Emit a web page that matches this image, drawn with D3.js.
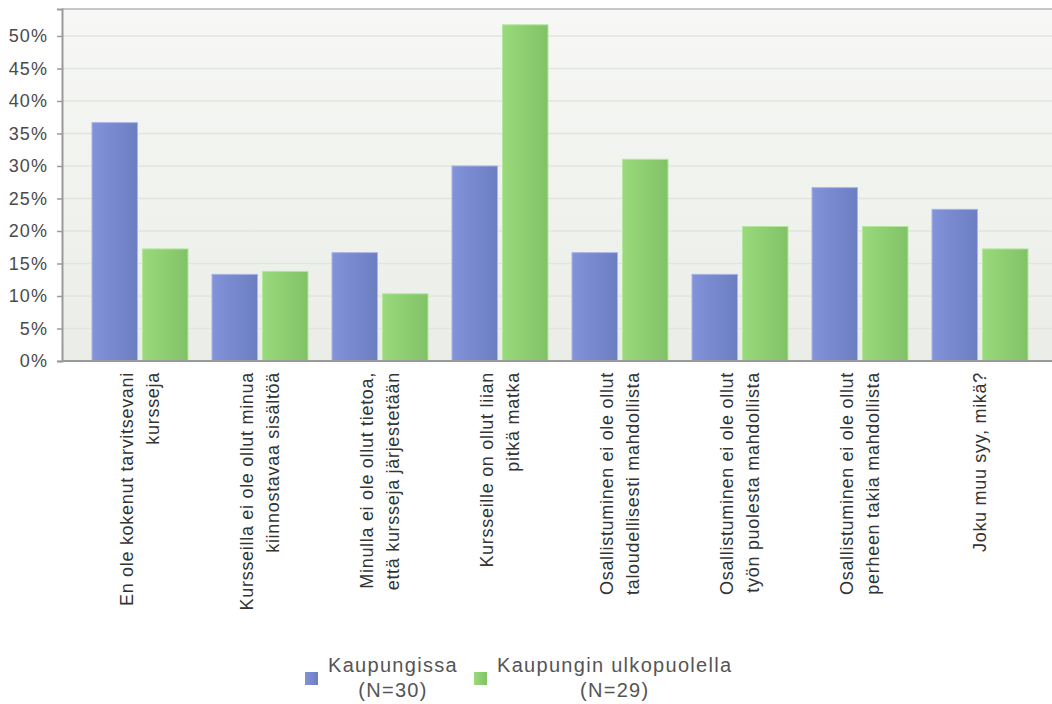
<!DOCTYPE html>
<html>
<head>
<meta charset="utf-8">
<script src="https://cdn.jsdelivr.net/npm/d3@7"></script>
<style>
  html, body { margin: 0; padding: 0; background: #fff; }
  svg { display: block; font-family: "Liberation Sans", Arial, sans-serif; }
</style>
</head>
<body>
<svg id="chart" width="1052" height="704"></svg>
<script>
// Reasons for not taking part in courses, by place of residence
const categories = [
  ["En ole kokenut tarvitsevani", "kursseja"],
  ["Kursseilla ei ole ollut minua", "kiinnostavaa sisältöä"],
  ["Minulla ei ole ollut tietoa,", "että kursseja järjestetään"],
  ["Kursseille on ollut liian", "pitkä matka"],
  ["Osallistuminen ei ole ollut", "taloudellisesti mahdollista"],
  ["Osallistuminen ei ole ollut", "työn puolesta mahdollista"],
  ["Osallistuminen ei ole ollut", "perheen takia mahdollista"],
  ["Joku muu syy, mikä?"]
];
const seriesNames = ["Kaupungissa", "Kaupungin ulkopuolella"];
const seriesN = ["(N=30)", "(N=29)"];
const kaupungissa = [36.67, 13.33, 16.67, 30.00, 16.67, 13.33, 26.67, 23.33];
const ulkopuolella = [17.24, 13.79, 10.34, 51.72, 31.03, 20.69, 20.69, 17.24];
const yTicks = [0, 5, 10, 15, 20, 25, 30, 35, 40, 45, 50];

const svg = d3.select("#chart");
const defs = svg.append("defs");

const plot = { left: 62, top: 9, right: 1060, bottom: 361 };

// plot background gradient
const bg = defs.append("linearGradient").attr("id", "bg")
  .attr("x1", 0).attr("y1", 0).attr("x2", 0).attr("y2", 1);
bg.append("stop").attr("offset", "0%").attr("stop-color", "#f7f8f6");
bg.append("stop").attr("offset", "100%").attr("stop-color", "#eaede7");

// bar gradients: lighter on the left, darker on the right
const barColors = [
  { id: "gBlue", light: "#8392da", dark: "#6c7ec2", stroke: "#a9b4e6" },
  { id: "gGreen", light: "#9ada7c", dark: "#80c266", stroke: "#b5e6a0" }
];
barColors.forEach(c => {
  const g = defs.append("linearGradient").attr("id", c.id)
    .attr("x1", 0).attr("y1", 0).attr("x2", 1).attr("y2", 0);
  g.append("stop").attr("offset", "0%").attr("stop-color", c.light);
  g.append("stop").attr("offset", "100%").attr("stop-color", c.dark);
});

const y = d3.scaleLinear().domain([0, 54.15]).range([plot.bottom, plot.top]);
const x0 = d3.scaleBand().domain(d3.range(categories.length)).range([80, 1040]).padding(0);
const x1 = d3.scaleBand().domain([0, 1]).range([12, 108]).paddingInner(0.1);

svg.append("rect")
  .attr("x", plot.left).attr("y", plot.top)
  .attr("width", plot.right - plot.left).attr("height", plot.bottom - plot.top)
  .attr("fill", "url(#bg)");

// horizontal grid lines
svg.append("g").selectAll("line").data(yTicks.filter(d => d > 0)).join("line")
  .attr("x1", plot.left).attr("x2", plot.right)
  .attr("y1", d => y(d)).attr("y2", d => y(d))
  .attr("stroke", "#e2e5df").attr("stroke-width", 1.5);

// top border
svg.append("line")
  .attr("x1", plot.left).attr("x2", plot.right)
  .attr("y1", plot.top).attr("y2", plot.top)
  .attr("stroke", "#c6c6c6").attr("stroke-width", 2);

// bars
const data = [kaupungissa, ulkopuolella];
const groups = svg.append("g").selectAll("g").data(categories).join("g")
  .attr("transform", (d, i) => `translate(${x0(i)},0)`);
groups.selectAll("rect")
  .data((d, i) => data.map((s, k) => ({ k, v: s[i] })))
  .join("rect")
  .attr("x", d => x1(d.k))
  .attr("width", x1.bandwidth())
  .attr("y", d => y(d.v))
  .attr("height", d => y(0) - y(d.v))
  .attr("fill", d => `url(#${barColors[d.k].id})`)
  .attr("stroke", d => barColors[d.k].stroke)
  .attr("stroke-width", 1);

// y axis
const yAxis = d3.axisLeft(y).tickValues(yTicks).tickFormat(d => d + "%").tickSize(5).tickPadding(9);
const yg = svg.append("g").attr("transform", `translate(${plot.left},0)`).call(yAxis);
yg.select(".domain").attr("stroke", "#9a9a9a").attr("stroke-width", 2);
yg.selectAll(".tick line").attr("stroke", "#9a9a9a").attr("stroke-width", 1.5);
yg.selectAll(".tick text").attr("fill", "#4a4a4a").attr("font-size", 18)
  .attr("letter-spacing", 1.1)
  .attr("font-family", "'Liberation Sans', Arial, sans-serif");

// x axis line
svg.append("line")
  .attr("x1", plot.left).attr("x2", plot.right)
  .attr("y1", plot.bottom).attr("y2", plot.bottom)
  .attr("stroke", "#9a9a9a").attr("stroke-width", 2);

// rotated category labels
const lineH = 26;
const labels = svg.append("g").selectAll("text").data(categories).join("text")
  .attr("transform", (d, i) => `translate(${x0(i) + x0.bandwidth() / 2},372) rotate(-90)`)
  .attr("text-anchor", "end")
  .attr("font-size", 18)
  .attr("letter-spacing", 0.7)
  .attr("fill", "#333");
labels.each(function (d) {
  const t = d3.select(this);
  const n = d.length;
  d.forEach((line, j) => {
    t.append("tspan")
      .attr("x", 0)
      .attr("y", (j - (n - 1) / 2) * lineH + 6)
      .text(line);
  });
});

// legend
const legendItems = [
  { sq: 305, tx: 328 },
  { sq: 474, tx: 497 }
];
const lg = svg.append("g");
legendItems.forEach((p, k) => {
  lg.append("rect").attr("x", p.sq).attr("y", 672).attr("width", 13).attr("height", 13)
    .attr("fill", `url(#${barColors[k].id})`);
  const t = lg.append("text").attr("x", p.tx).attr("y", 672)
    .attr("font-size", 20).attr("letter-spacing", 1.3).attr("fill", "#555").text(seriesNames[k]);
  const w = t.node().getComputedTextLength();
  lg.append("text").attr("x", p.tx + w / 2).attr("y", 697)
    .attr("text-anchor", "middle")
    .attr("font-size", 20).attr("letter-spacing", 1.3).attr("fill", "#555").text(seriesN[k]);
});
</script>
</body>
</html>
